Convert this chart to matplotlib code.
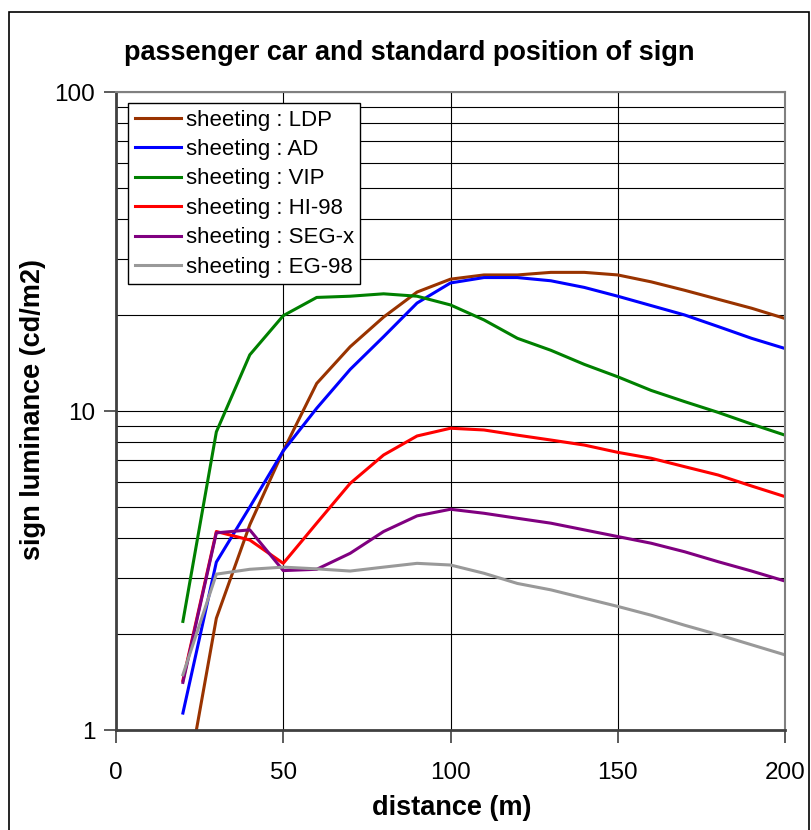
import matplotlib

matplotlib.use("Agg")
import matplotlib.pyplot as plt
from matplotlib.patches import Rectangle
from matplotlib.ticker import FixedLocator, LogLocator, NullFormatter

plt.rcParams["font.family"] = ["Liberation Sans", "DejaVu Sans"]

# 距離 (m)
distance = [20, 30, 40, 50, 60, 70, 80, 90, 100, 110,
            120, 130, 140, 150, 160, 170, 180, 190, 200]

# sign luminance (cd/m2), 画像から読み取り
ldp = [0.58, 2.24, 4.4, 7.5, 12.2, 15.9, 19.7, 23.6, 25.9, 26.7,
       26.7, 27.2, 27.2, 26.7, 25.4, 23.9, 22.4, 21.0, 19.5]
ad = [1.13, 3.36, 5.0, 7.5, 10.2, 13.5, 17.1, 21.8, 25.2, 26.2,
      26.2, 25.6, 24.4, 22.9, 21.4, 20.0, 18.4, 16.9, 15.7]
vip = [2.19, 8.6, 15.0, 19.9, 22.7, 22.9, 23.3, 22.9, 21.5, 19.3,
       16.9, 15.5, 14.0, 12.8, 11.6, 10.7, 9.9, 9.1, 8.4]
hi98 = [1.43, 4.19, 3.94, 3.33, 4.45, 5.93, 7.28, 8.35, 8.83, 8.72,
        8.4, 8.11, 7.82, 7.42, 7.11, 6.69, 6.30, 5.82, 5.39]
segx = [1.41, 4.15, 4.24, 3.16, 3.19, 3.58, 4.19, 4.69, 4.92, 4.78,
        4.61, 4.45, 4.24, 4.04, 3.85, 3.62, 3.37, 3.15, 2.93]
eg98 = [1.49, 3.08, 3.19, 3.24, 3.20, 3.15, 3.24, 3.33, 3.29, 3.10,
        2.88, 2.75, 2.59, 2.44, 2.29, 2.13, 1.99, 1.85, 1.72]

labels = ["sheeting : LDP", "sheeting : AD", "sheeting : VIP",
          "sheeting : HI-98", "sheeting : SEG-x", "sheeting : EG-98"]
colors = ["#993300", "#0000ff", "#008000", "#ff0000", "#800080", "#999999"]
series = [ldp, ad, vip, hi98, segx, eg98]

fig = plt.figure(figsize=(8.11, 8.30), dpi=100)
ax = fig.add_axes([116 / 811, 100 / 830, 669 / 811, 638 / 830])

for vals, lab, col in zip(series, labels, colors):
    ax.plot(distance, vals, color=col, linewidth=2.2, label=lab)

ax.set_yscale("log")
ax.set_xlim(0, 200)
ax.set_ylim(1, 100)
ax.xaxis.set_major_locator(FixedLocator([0, 50, 100, 150, 200]))
ax.yaxis.set_major_locator(FixedLocator([1, 10, 100]))
ax.yaxis.set_minor_locator(LogLocator(base=10, subs=range(2, 10)))
ax.yaxis.set_minor_formatter(NullFormatter())
ax.set_yticklabels(["1", "10", "100"])

ax.grid(True, which="both", axis="y", color="black", linewidth=0.8)
ax.grid(True, which="major", axis="x", color="black", linewidth=0.8)
ax.set_axisbelow(True)

ax.tick_params(which="major", length=9, width=1.2, labelsize=17.5,
               color="#404040", pad=6)
ax.tick_params(axis="x", pad=14)
ax.tick_params(which="minor", length=0)

for side in ("left", "bottom"):
    ax.spines[side].set_color("#404040")
    ax.spines[side].set_linewidth(2)
for side in ("top", "right"):
    ax.spines[side].set_color("#808080")
    ax.spines[side].set_linewidth(1.5)

ax.set_xlabel("distance (m)", fontsize=19.5, fontweight="bold")
ax.set_ylabel("sign luminance (cd/m2)", fontsize=19.5, fontweight="bold")
ax.xaxis.set_label_coords(0.502, -0.122)
ax.yaxis.set_label_coords(-0.124, 0.503)
ax.xaxis.label.set_va("center")
ax.yaxis.label.set_va("center")
fig.text(409 / 811, 1 - 53 / 830, "passenger car and standard position of sign",
         ha="center", va="center", fontsize=19.5, fontweight="bold")

leg = ax.legend(loc="upper left", bbox_to_anchor=(0.018, 0.983),
                borderaxespad=0, fontsize=16, fancybox=False,
                edgecolor="black", framealpha=1, handlelength=2.07,
                handletextpad=0.22, labelspacing=0.38, borderpad=0.3)
leg.get_frame().set_linewidth(1.0)

# 外枠
fig.patches.append(Rectangle((9 / 811, -0.01), 800 / 811, 1 - 12 / 830 + 0.01,
                             transform=fig.transFigure, fill=False,
                             edgecolor="black", linewidth=1.2))

fig.savefig("out.png", dpi=100)
